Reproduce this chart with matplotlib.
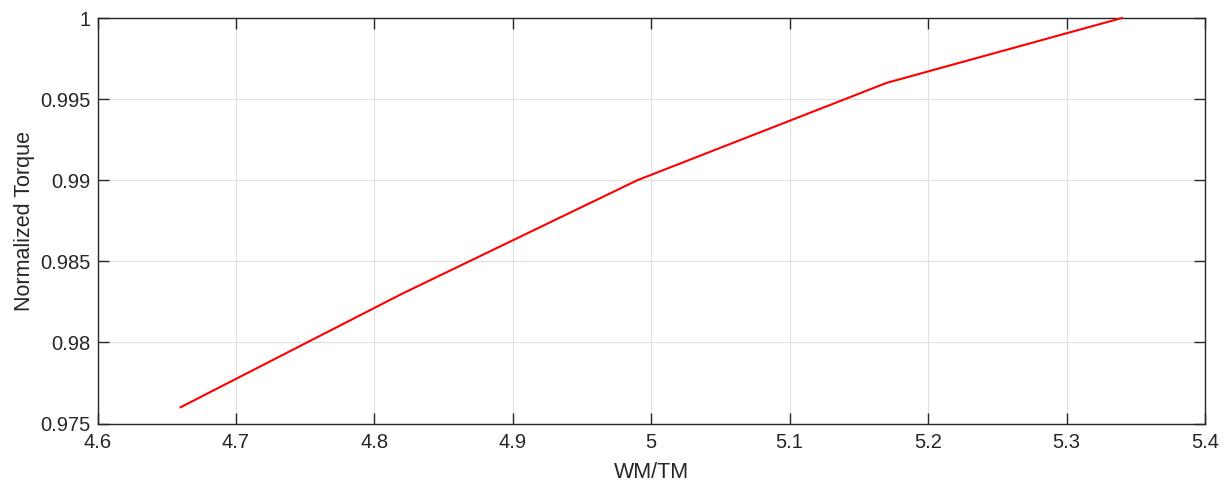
import matplotlib
matplotlib.use('Agg')
import matplotlib.pyplot as plt

plt.rcParams['font.family'] = ['Liberation Sans', 'DejaVu Sans']

# data
wm_tm = [4.66, 4.82, 4.99, 5.17, 5.34]
torque = [0.976, 0.983, 0.990, 0.996, 1.000]

xticks = [4.6, 4.7, 4.8, 4.9, 5.0, 5.1, 5.2, 5.3, 5.4]
xlabels = ['4.6', '4.7', '4.8', '4.9', '5', '5.1', '5.2', '5.3', '5.4']
yticks = [0.975, 0.98, 0.985, 0.99, 0.995, 1.0]
ylabels = ['0.975', '0.98', '0.985', '0.99', '0.995', '1']

fig = plt.figure(figsize=(12.25, 4.83), dpi=100)
fig.set_facecolor('white')
ax = fig.add_axes([97.5 / 1225, 1 - 423.5 / 483, (1205 - 97.5) / 1225, (423.5 - 18) / 483])

ax.plot(wm_tm, torque, color='red', linewidth=1.5, clip_on=False, zorder=3)

ax.set_xlim(4.6, 5.4)
ax.set_ylim(0.975, 1.0)
ax.set_xticks(xticks)
ax.set_xticklabels(xlabels)
ax.set_yticks(yticks)
ax.set_yticklabels(ylabels)

ax.grid(True, color='#e0e0e0', linewidth=0.8)
ax.set_axisbelow(True)
for s in ax.spines.values():
    s.set_color('#262626')
    s.set_linewidth(1.0)
ax.tick_params(direction='in', length=8, width=1.0, color='#262626',
               labelsize=14.5, labelcolor='#262626', top=True, right=True, pad=5)
ax.tick_params(axis='x', pad=7)

ax.set_xlabel('WM/TM', fontsize=15.5, color='#262626', labelpad=7)
ax.set_ylabel('Normalized Torque', fontsize=15.5, color='#262626', labelpad=4)

plt.savefig('out.png', dpi=100)
